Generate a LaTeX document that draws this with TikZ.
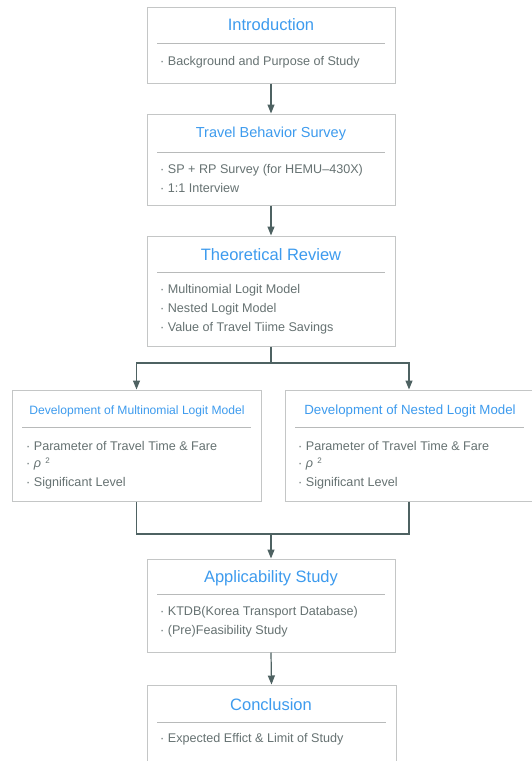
\documentclass[tikz,border=0pt]{standalone}
\usepackage{fontspec}
\setmainfont{Liberation Sans}
\usetikzlibrary{arrows.meta}
\definecolor{ttl}{HTML}{3D9BEE}
\definecolor{txt}{HTML}{667272}
\definecolor{brd}{HTML}{C4C6C6}
\definecolor{sep}{HTML}{B8BABA}
\definecolor{arr}{HTML}{4E6262}
\tikzset{
  box/.style={draw=brd, line width=1pt, fill=white, inner sep=0pt},
  sepline/.style={draw=sep, line width=0.9pt},
  bigtitle/.style={text=ttl, font=\fontsize{16.5}{18}\selectfont, inner sep=0pt},
  midtitle/.style={text=ttl, font=\fontsize{14.5}{16}\selectfont, inner sep=0pt},
  smalltitle/.style={text=ttl, inner sep=0pt},
  item/.style={text=txt, font=\fontsize{12.6}{14}\selectfont, anchor=west, inner sep=0pt},
  conn/.style={draw=arr, line width=1.2pt},
  arrow/.style={conn, -{Triangle[width=7pt,length=9pt]}}
}
\begin{document}
\begin{tikzpicture}[x=1pt,y=-1pt]
\clip (0,0) rectangle (532,761);
\fill[white] (0,0) rectangle (532,761);
% boxes
\node[box, minimum width=248pt, minimum height=76pt] (b1) at (271,45) {};
\node[box, minimum width=248pt, minimum height=91pt] (b2) at (271,159.5) {};
\node[box, minimum width=248pt, minimum height=110pt] (b3) at (271,291) {};
\node[box, minimum width=249pt, minimum height=111pt] (bl) at (136.5,445.5) {};
\node[box, minimum width=248pt, minimum height=111pt] (br) at (409,445.5) {};
\node[box, minimum width=248pt, minimum height=93pt] (b4) at (271,605.5) {};
\node[box, minimum width=249pt, minimum height=92pt] (b5) at (271.5,731) {};
% separators
\draw[sepline] (157,43) -- (385,43);
\draw[sepline] (157,152) -- (385,152);
\draw[sepline] (157,272) -- (385,272);
\draw[sepline] (22,427) -- (251,427);
\draw[sepline] (295,427) -- (524,427);
\draw[sepline] (157,594) -- (385,594);
\draw[sepline] (157,722) -- (386,722);
% titles
\node[bigtitle] (t1) at (271,25) {Introduction};
\node[midtitle] (t2) at (271,134) {Travel Behavior Survey};
\node[bigtitle] (t3) at (271,255) {Theoretical Review};
\node[smalltitle, font=\fontsize{12.1}{14}\selectfont] (tl) at (137,411) {Development of Multinomial Logit Model};
\node[smalltitle, font=\fontsize{13.3}{14}\selectfont] (tr) at (410,411) {Development of Nested Logit Model};
\node[bigtitle] (t4) at (271,578) {Applicability Study};
\node[bigtitle] (t5) at (271,705) {Conclusion};
% items
\node[item] (i11) at (160,62) {· Background and Purpose of Study};
\node[item] (i21) at (160,170) {· SP + RP Survey (for HEMU–430X)};
\node[item] (i22) at (160,188) {· 1:1 Interview};
\node[item] (i31) at (160,290) {· Multinomial Logit Model};
\node[item] (i32) at (160,309) {· Nested Logit Model};
\node[item] (i33) at (160,328) {· Value of Travel Tiime Savings};
\node[item] (il1) at (26,446) {· Parameter of Travel Time \& Fare};
\node[item] (il2) at (26,464) {· \textit{ρ}\,\,\raisebox{0.6ex}{\fontsize{8}{9}\selectfont 2}};
\node[item] (il3) at (26,483) {· Significant Level};
\node[item] (ir1) at (298,446) {· Parameter of Travel Time \& Fare};
\node[item] (ir2) at (298,464) {· \textit{ρ}\,\,\raisebox{0.6ex}{\fontsize{8}{9}\selectfont 2}};
\node[item] (ir3) at (298,483) {· Significant Level};
\node[item] (i41) at (160,612) {· KTDB(Korea Transport Database)};
\node[item] (i42) at (160,631) {· (Pre)Feasibility Study};
\node[item] (i51) at (160,739) {· Expected Effict \& Limit of Study};
% connectors
\coordinate (j1) at (271,363);
\coordinate (j2) at (271,534);
\draw[arrow] (b1.south) -- (b2.north);
\draw[arrow] (b2.south) -- (b3.north);
\draw[conn] (b3.south) -- (j1);
\draw[arrow] (j1) -| (bl.north);
\draw[arrow] (j1) -| (br.north);
\draw[conn] (bl.south) |- (j2);
\draw[conn] (br.south) |- (j2);
\draw[arrow] (j2) -- (b4.north);
\draw[arrow] (b4.south) -- (b5.north);
\end{tikzpicture}
\end{document}
